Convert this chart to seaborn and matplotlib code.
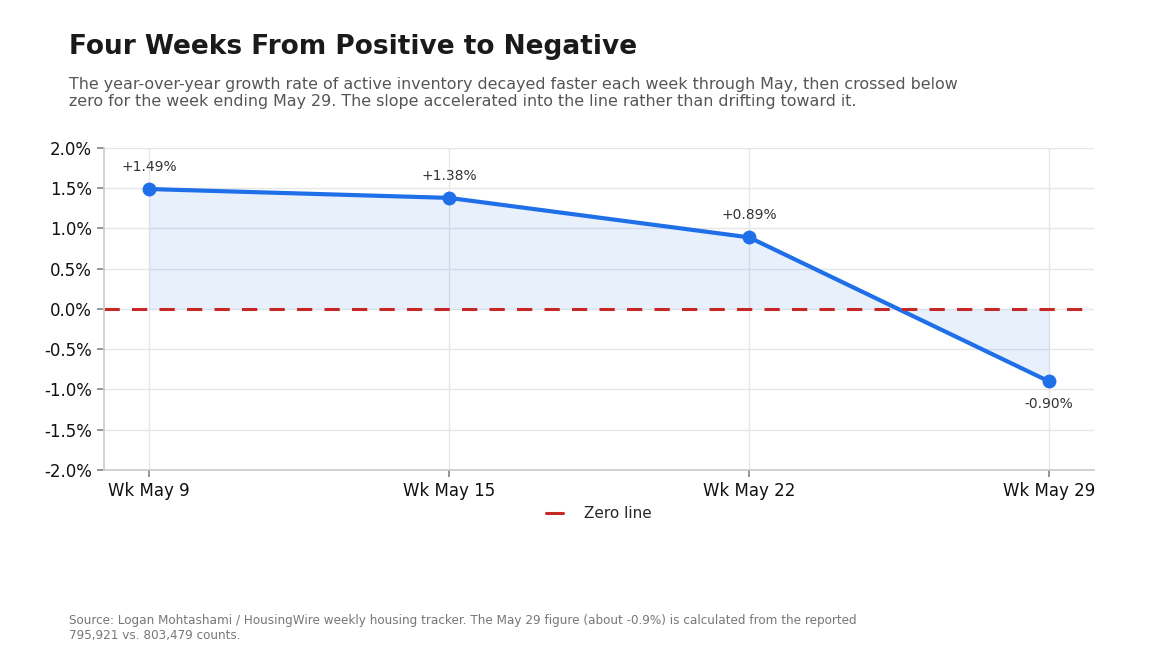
import matplotlib
matplotlib.use("Agg")
import matplotlib.pyplot as plt
from matplotlib.lines import Line2D
import seaborn as sns
import pandas as pd

weeks = ["Wk May 9", "Wk May 15", "Wk May 22", "Wk May 29"]
growth = [1.49, 1.38, 0.89, -0.90]
labels = ["+1.49%", "+1.38%", "+0.89%", "-0.90%"]

sns.set_theme(style="whitegrid")
plt.rcParams['font.family'] = ['DejaVu Sans']

df = pd.DataFrame({"x": range(len(weeks)), "y": growth})

fig = plt.figure(figsize=(11.52, 6.72), dpi=100)
ax = fig.add_axes([0.0903, 0.3006, 0.8594, 0.4792])

line_color = "#1f6fe8"
zero_color = "#c62828"
ax.fill_between(df["x"], df["y"], 0, color=line_color, alpha=0.1, linewidth=0)
sns.lineplot(data=df, x="x", y="y", ax=ax, color=line_color, linewidth=3,
             marker="o", markersize=10, markeredgewidth=0)
ax.axhline(0, color=zero_color, linestyle=(0, (5, 4)), linewidth=2.2)

for i, (v, t) in enumerate(zip(growth, labels)):
    off = 16 if v >= 0 else -16
    ax.annotate(t, (i, v), xytext=(0, off), textcoords="offset points",
                ha="center", va="center", fontsize=10, color="#333333")

ax.set_xlim(-0.15, 3.15)
ax.set_ylim(-2.0, 2.0)
ax.set_xticks(range(len(weeks)))
ax.set_xticklabels(weeks, fontsize=12)
yt = [-2, -1.5, -1, -0.5, 0, 0.5, 1, 1.5, 2]
ax.set_yticks(yt)
ax.set_yticklabels([f"{v:.1f}%" for v in yt], fontsize=12)
ax.set_xlabel("")
ax.set_ylabel("")
ax.grid(True, color="#e6e6e6", linewidth=1)
for s in ["top", "right"]:
    ax.spines[s].set_visible(False)
for s in ["left", "bottom"]:
    ax.spines[s].set_color("#cccccc")
ax.tick_params(axis="both", length=5, color="#888888", colors="#111111")
ax.tick_params(axis="x", bottom=True)
ax.tick_params(axis="y", left=True)

handle = Line2D([], [], color=zero_color, linewidth=2.2, linestyle="-")
ax.legend(handles=[handle], labels=["Zero line"], loc="upper center",
          bbox_to_anchor=(0.5, -0.07), frameon=False, fontsize=11,
          handlelength=1.1, handletextpad=1.4)

fig.text(0.06, 0.93, "Four Weeks From Positive to Negative", fontsize=19,
         fontweight="bold", color="#1a1a1a", va="center")
fig.text(0.06, 0.862, "The year-over-year growth rate of active inventory decayed faster each week through May, then crossed below\n"
         "zero for the week ending May 29. The slope accelerated into the line rather than drifting toward it.",
         fontsize=11.4, color="#555555", va="center", linespacing=1.15)
fig.text(0.06, 0.065, "Source: Logan Mohtashami / HousingWire weekly housing tracker. The May 29 figure (about -0.9%) is calculated from the reported\n"
         "795,921 vs. 803,479 counts.", fontsize=8.65, color="#777777", va="center", linespacing=1.2)

fig.savefig("out.png", dpi=100)
